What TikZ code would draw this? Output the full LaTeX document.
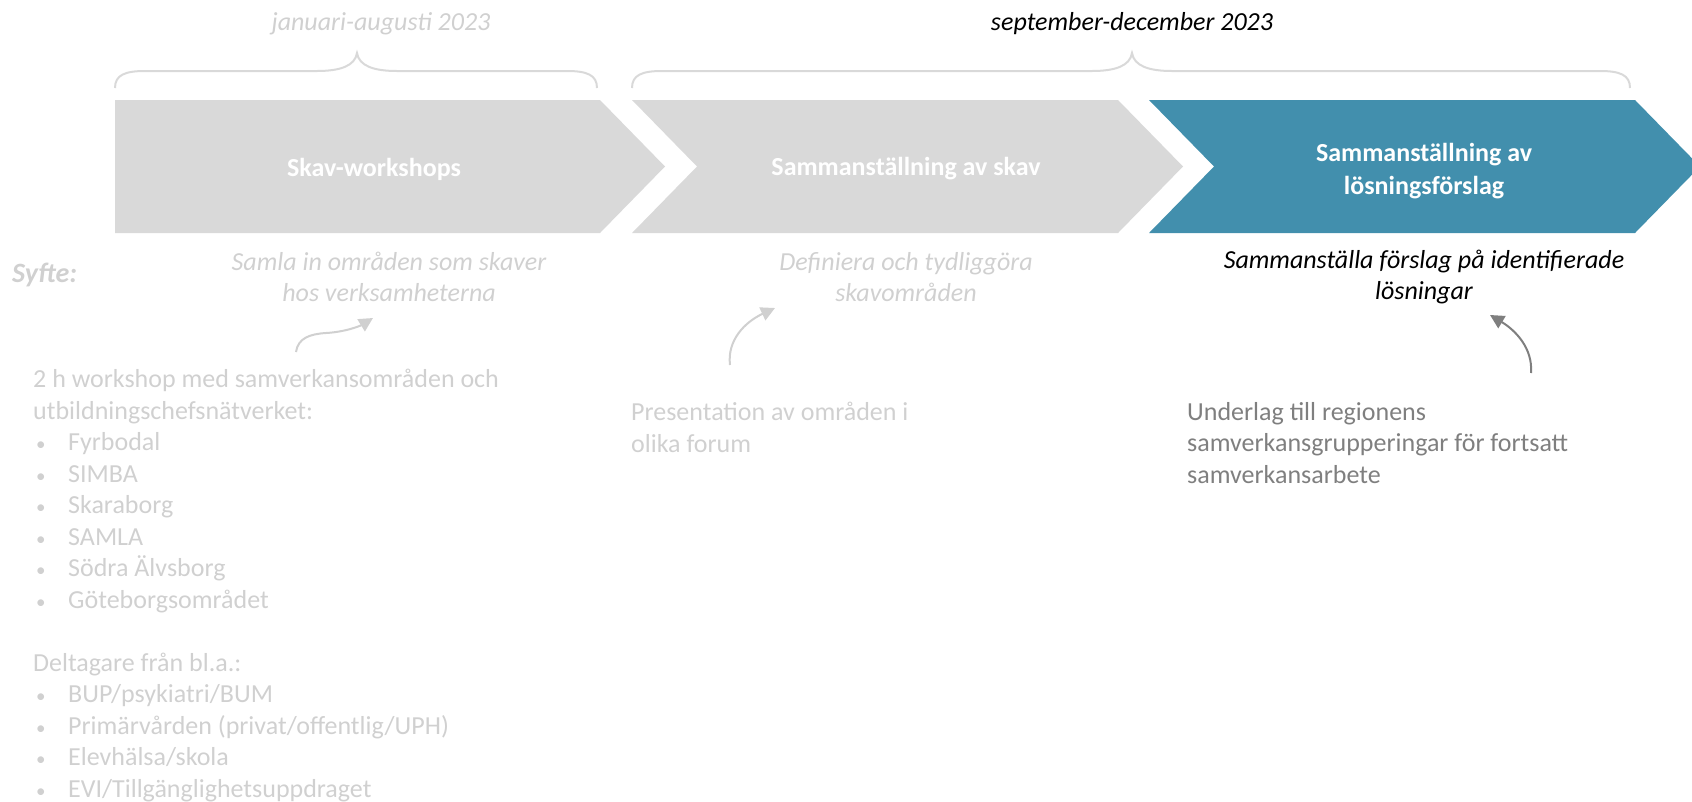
\documentclass[tikz,border=0pt]{standalone}
\usepackage{fontspec}
\setmainfont{Carlito}
\usetikzlibrary{arrows.meta}
\definecolor{chevgray}{HTML}{D9D9D9}
\definecolor{fadetext}{HTML}{D0D0D0}
\definecolor{tealblue}{HTML}{428FAD}
\definecolor{midgray}{HTML}{7F7F7F}
\newcommand\punkt{\hspace*{3pt}\makebox[32pt][l]{\fontsize{19}{19}\selectfont\textbullet}}

\begin{document}
\begin{tikzpicture}[x=1pt ,y=-1pt ,
title/.style ={ text=white , font=\fontsize{26}{33}\selectfont\bfseries , align=center },
period/.style ={ font=\fontsize{26}{31}\selectfont\itshape },
aim/.style ={ font=\fontsize{26}{31}\selectfont\itshape , align=center },
body/.style ={ font=\fontsize{26}{31.5}\selectfont , align=left , anchor=north west , inner sep=0pt },
brace/.style ={ draw=chevgray , line width=2pt },
uparrow/.style ={ line width=2pt , -{Triangle[length=14pt,width=14pt]} }]
\useasboundingbox (0,0) rectangle (1692,801);

% the three steps
\fill[chevgray] (115,100) -- (600,100) -- (665,166.5) -- (600,233) -- (115,233) -- cycle;
\fill[chevgray] (632,100) -- (1118,100) -- (1183,166.5) -- (1118,233) -- (632,233) -- (697,166.5) -- cycle;
\fill[tealblue] (1149,100) -- (1635,100) -- (1700,166.5) -- (1635,233) -- (1149,233) -- (1214,166.5) -- cycle;
\node[title] (W) at (374,169) {Skav-workshops};
\node[title] (S) at (906,169) {Sammanställning av skav};
\node[title] (L) at (1424,171) {Sammanställning av\\lösningsförslag};

% periods
\node[period , text=fadetext] (JA) at (381,24) {januari-augusti 2023};
\node[period] (SD) at (1132,24) {september-december 2023};
\draw[brace] (115,88) .. controls (115,75) and (125,71) .. (145,71) -- (317,71)
  .. controls (340,71) and (355,66) .. (357,53) .. controls (359,66) and (374,71) .. (397,71)
  -- (567,71) .. controls (587,71) and (597,75) .. (597,88);
\draw[brace] (632,88) .. controls (632,75) and (642,71) .. (662,71) -- (1092,71)
  .. controls (1115,71) and (1130,66) .. (1132,53) .. controls (1134,66) and (1149,71) .. (1172,71)
  -- (1600,71) .. controls (1620,71) and (1630,75) .. (1630,88);

% aims
\node[font=\fontsize{28}{31}\selectfont\bfseries\itshape , text=fadetext , anchor=west , inner sep=0pt] (SY) at (12,275) {Syfte:};
\node[aim , text=fadetext] (SA) at (389,277) {Samla in områden som skaver\\hos verksamheterna};
\node[aim , text=fadetext] (DE) at (906,277) {Definiera och tydliggöra\\skavområden};
\node[aim] (SF) at (1424,277) {Sammanställa förslag på identifierade\\lösningar};

% details
\node[body , text=fadetext] (WS) at (33,369) {2 h workshop med samverkansområden och\\utbildningschefsnätverket:\\
\punkt Fyrbodal\\\punkt SIMBA\\\punkt Skaraborg\\\punkt SAMLA\\\punkt Södra Älvsborg\\\punkt Göteborgsområdet\\[31.5pt]
Deltagare från bl.a.:\\\punkt BUP/psykiatri/BUM\\\punkt Primärvården (privat/offentlig/UPH)\\\punkt Elevhälsa/skola\\\punkt EVI/Tillgänglighetsuppdraget};
\node[body , text=fadetext] (PR) at (631,402) {Presentation av områden i\\olika forum};
\node[body , text=midgray] (UN) at (1187,402) {Underlag till regionens\\samverkansgrupperingar för fortsatt\\samverkansarbete};

% arrows up to the aims
\coordinate (WS tail) at (296,352);
\coordinate (SA head) at (373,318);
\coordinate (PR tail) at (730,365);
\coordinate (DE head) at (775,308);
\coordinate (UN tail) at (1531,373);
\coordinate (SF head) at (1490,315);
\draw[uparrow , fadetext] (WS tail) .. controls (298,338) and (310,334) .. (326,333) .. controls (345,332) and (360,326) .. (SA head);
\draw[uparrow , fadetext] (PR tail) .. controls (727,340) and (745,322) .. (DE head);
\draw[uparrow , midgray] (UN tail) .. controls (1533,348) and (1515,330) .. (SF head);
\end{tikzpicture}
\end{document}
